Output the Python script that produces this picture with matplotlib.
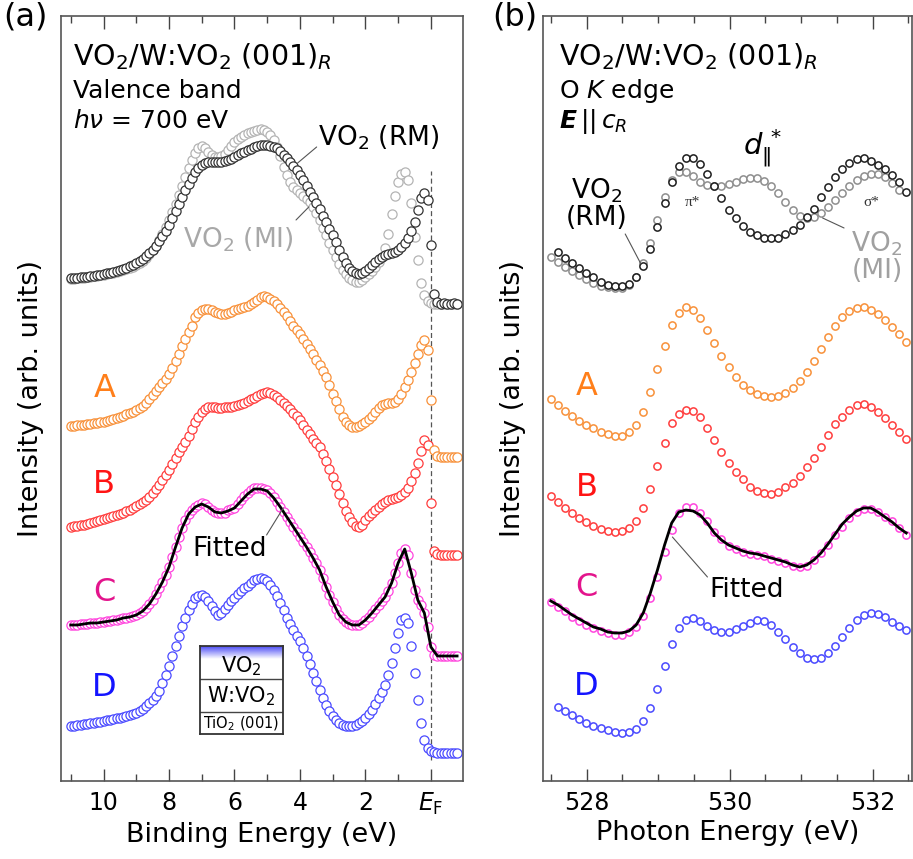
import numpy as np
import matplotlib.pyplot as plt
import matplotlib as mpl
from matplotlib.colors import LinearSegmentedColormap

# Configurations
mpl.rcParams['font.family'] = 'DejaVu Sans'
mpl.rcParams['mathtext.fontset'] = 'custom'
mpl.rcParams['mathtext.rm'] = 'DejaVu Sans'
mpl.rcParams['mathtext.it'] = 'DejaVu Sans:italic'
mpl.rcParams['mathtext.bf'] = 'DejaVu Sans:bold:italic'
mpl.rcParams['axes.edgecolor'] = '#555555'
mpl.rcParams['axes.linewidth'] = 1.2
mpl.rcParams['xtick.color'] = '#444444'
mpl.rcParams['xtick.labelcolor'] = 'black'

###################### valence band (binding energy, eV) ######################
be = np.arange(110, -9, -1) / 10.0      # 11.0 ... -0.8
be_fit = np.arange(110, -9, -2) / 10.0  # 11.0 ... -0.8

vb_rm = [0.26, 0.26, 0.26, 0.27, 0.27, 0.27, 0.28, 0.28, 0.29, 0.29,
         0.30, 0.31, 0.31, 0.32, 0.33, 0.34, 0.35, 0.36, 0.38, 0.39,
         0.41, 0.43, 0.45, 0.48, 0.51, 0.54, 0.58, 0.63, 0.68, 0.73,
         0.79, 0.86, 0.93, 1.00, 1.07, 1.14, 1.20, 1.26, 1.32, 1.36,
         1.39, 1.41, 1.42, 1.42, 1.42, 1.42, 1.42, 1.43, 1.44, 1.45,
         1.47, 1.49, 1.51, 1.52, 1.54, 1.55, 1.57, 1.58, 1.59, 1.59,
         1.59, 1.58, 1.57, 1.56, 1.53, 1.49, 1.46, 1.42, 1.38, 1.34,
         1.29, 1.24, 1.18, 1.12, 1.07, 1.01, 0.95, 0.88, 0.82, 0.75,
         0.69, 0.62, 0.54, 0.47, 0.41, 0.36, 0.33, 0.31, 0.30, 0.31,
         0.33, 0.36, 0.39, 0.42, 0.45, 0.47, 0.49, 0.50, 0.51, 0.52,
         0.54, 0.57, 0.61, 0.66, 0.73, 0.82, 0.94, 1.06, 1.11, 1.04,
         0.59, 0.10, 0.02, 0.00, 0.01, 0.00, 0.00, 0.01, 0.00]
vb_mi = [0.25, 0.25, 0.26, 0.26, 0.26, 0.27, 0.27, 0.28, 0.28, 0.29,
         0.29, 0.30, 0.31, 0.31, 0.32, 0.33, 0.34, 0.35, 0.36, 0.37,
         0.39, 0.41, 0.43, 0.46, 0.50, 0.54, 0.58, 0.64, 0.70, 0.77,
         0.84, 0.92, 1.00, 1.09, 1.18, 1.27, 1.36, 1.44, 1.51, 1.56,
         1.58, 1.56, 1.52, 1.49, 1.47, 1.47, 1.48, 1.50, 1.54, 1.58,
         1.62, 1.65, 1.67, 1.69, 1.71, 1.72, 1.73, 1.74, 1.75, 1.74,
         1.72, 1.69, 1.64, 1.57, 1.48, 1.37, 1.29, 1.22, 1.17, 1.14,
         1.11, 1.08, 1.05, 1.02, 0.97, 0.91, 0.84, 0.76, 0.69, 0.61,
         0.54, 0.47, 0.40, 0.34, 0.30, 0.26, 0.24, 0.22, 0.22, 0.24,
         0.27, 0.30, 0.33, 0.37, 0.42, 0.47, 0.56, 0.70, 0.90, 1.08,
         1.22, 1.30, 1.32, 1.24, 1.01, 0.67, 0.44, 0.21, 0.09, 0.03,
         0.01, 0.00, 0.00, 0.00, 0.00, 0.00, 0.00, 0.00, 0.00]
vb_a = [0.31, 0.31, 0.32, 0.32, 0.32, 0.33, 0.33, 0.34, 0.34, 0.35,
        0.35, 0.36, 0.37, 0.38, 0.39, 0.40, 0.41, 0.43, 0.44, 0.45,
        0.47, 0.49, 0.51, 0.54, 0.58, 0.62, 0.66, 0.70, 0.74, 0.78,
        0.83, 0.89, 0.96, 1.03, 1.11, 1.18, 1.25, 1.31, 1.40, 1.44,
        1.47, 1.48, 1.48, 1.47, 1.45, 1.44, 1.43, 1.43, 1.44, 1.45,
        1.47, 1.48, 1.49, 1.50, 1.51, 1.53, 1.55, 1.57, 1.60, 1.61,
        1.60, 1.58, 1.56, 1.53, 1.49, 1.45, 1.41, 1.36, 1.31, 1.27,
        1.23, 1.18, 1.13, 1.08, 1.03, 0.97, 0.92, 0.86, 0.80, 0.72,
        0.63, 0.56, 0.48, 0.40, 0.35, 0.32, 0.30, 0.30, 0.31, 0.33,
        0.35, 0.38, 0.41, 0.45, 0.49, 0.52, 0.53, 0.54, 0.54, 0.55,
        0.58, 0.63, 0.70, 0.77, 0.85, 0.94, 1.03, 1.12, 1.17, 1.07,
        0.57, 0.07, 0.01, 0.00, 0.00, 0.00, 0.00, 0.00, 0.00]
vb_b = [0.28, 0.29, 0.29, 0.30, 0.30, 0.31, 0.32, 0.33, 0.34, 0.35,
        0.36, 0.37, 0.38, 0.39, 0.40, 0.41, 0.42, 0.44, 0.45, 0.47,
        0.49, 0.51, 0.53, 0.55, 0.58, 0.62, 0.66, 0.70, 0.75, 0.80,
        0.85, 0.91, 0.97, 1.03, 1.08, 1.13, 1.19, 1.26, 1.33, 1.38,
        1.43, 1.46, 1.48, 1.48, 1.48, 1.47, 1.47, 1.48, 1.48, 1.48,
        1.49, 1.50, 1.51, 1.52, 1.54, 1.56, 1.57, 1.59, 1.61, 1.62,
        1.63, 1.62, 1.60, 1.58, 1.55, 1.52, 1.49, 1.46, 1.42, 1.39,
        1.35, 1.30, 1.25, 1.21, 1.16, 1.12, 1.08, 1.01, 0.94, 0.86,
        0.78, 0.70, 0.61, 0.52, 0.44, 0.38, 0.33, 0.29, 0.28, 0.30,
        0.35, 0.39, 0.42, 0.45, 0.48, 0.51, 0.53, 0.55, 0.56, 0.57,
        0.58, 0.60, 0.63, 0.67, 0.74, 0.82, 0.92, 1.04, 1.15, 1.10,
        0.52, 0.04, 0.01, 0.00, 0.00, 0.00, 0.00, 0.00, 0.00]
vb_c = [0.31, 0.31, 0.31, 0.32, 0.32, 0.32, 0.33, 0.33, 0.33, 0.34,
        0.34, 0.35, 0.35, 0.36, 0.36, 0.37, 0.38, 0.38, 0.39, 0.40,
        0.41, 0.43, 0.45, 0.48, 0.52, 0.56, 0.62, 0.68, 0.74, 0.81,
        0.89, 0.99, 1.09, 1.19, 1.28, 1.36, 1.42, 1.46, 1.49, 1.51,
        1.53, 1.52, 1.49, 1.46, 1.44, 1.43, 1.43, 1.43, 1.46, 1.47,
        1.48, 1.52, 1.56, 1.60, 1.63, 1.66, 1.68, 1.68, 1.68, 1.67,
        1.66, 1.63, 1.59, 1.54, 1.49, 1.44, 1.39, 1.34, 1.29, 1.24,
        1.19, 1.14, 1.09, 1.04, 0.98, 0.93, 0.86, 0.78, 0.69, 0.61,
        0.54, 0.47, 0.41, 0.37, 0.34, 0.32, 0.31, 0.31, 0.31, 0.33,
        0.36, 0.39, 0.43, 0.47, 0.51, 0.55, 0.59, 0.65, 0.73, 0.83,
        0.93, 1.03, 1.07, 1.01, 0.83, 0.66, 0.56, 0.51, 0.43, 0.29,
        0.09, 0.01, 0.00, 0.00, 0.00, 0.00, 0.00, 0.00, 0.00]
vb_c_fit = [0.31, 0.31, 0.32, 0.33, 0.33, 0.34, 0.35, 0.36, 0.38, 0.39,
            0.41, 0.45, 0.52, 0.62, 0.74, 0.89, 1.09, 1.28, 1.42, 1.49,
            1.52, 1.49, 1.44, 1.43, 1.45, 1.48, 1.55, 1.62, 1.67, 1.67,
            1.65, 1.58, 1.49, 1.39, 1.29, 1.19, 1.09, 0.98, 0.86, 0.69,
            0.54, 0.41, 0.34, 0.31, 0.31, 0.36, 0.43, 0.51, 0.59, 0.73,
            0.93, 1.07, 0.83, 0.56, 0.43, 0.09, 0.00, 0.00, 0.00, 0.00]
vb_d = [0.27, 0.27, 0.28, 0.28, 0.29, 0.29, 0.30, 0.30, 0.31, 0.31,
        0.32, 0.33, 0.33, 0.34, 0.35, 0.35, 0.36, 0.37, 0.38, 0.39,
        0.40, 0.42, 0.44, 0.47, 0.50, 0.53, 0.57, 0.62, 0.70, 0.78,
        0.87, 0.97, 1.07, 1.17, 1.27, 1.35, 1.43, 1.49, 1.55, 1.57,
        1.58, 1.56, 1.52, 1.47, 1.42, 1.38, 1.40, 1.44, 1.48, 1.52,
        1.55, 1.59, 1.62, 1.65, 1.67, 1.70, 1.73, 1.74, 1.75, 1.74,
        1.72, 1.68, 1.63, 1.57, 1.50, 1.43, 1.35, 1.29, 1.23, 1.17,
        1.12, 1.05, 0.97, 0.89, 0.80, 0.72, 0.63, 0.55, 0.48, 0.42,
        0.37, 0.33, 0.30, 0.28, 0.27, 0.27, 0.27, 0.28, 0.30, 0.32,
        0.35, 0.39, 0.43, 0.49, 0.55, 0.61, 0.68, 0.78, 0.90, 1.05,
        1.20, 1.33, 1.35, 1.30, 1.07, 0.80, 0.53, 0.30, 0.13, 0.05,
        0.02, 0.01, 0.00, 0.00, 0.00, 0.00, 0.00, 0.00, 0.00]
vb_shift = {'mi': 4.77, 'rm': 4.77, 'a': 3.24, 'b': 2.26, 'c': 1.25, 'd': 0.28}

###################### O K edge (photon energy, eV) ###########################
hv = np.linspace(527.5, 532.47, 51)

xas_rm = [0.79, 0.73, 0.68, 0.63, 0.58, 0.54, 0.49, 0.46, 0.45, 0.45,
          0.47, 0.54, 0.65, 0.82, 1.04, 1.28, 1.49, 1.65, 1.73, 1.73,
          1.67, 1.57, 1.45, 1.33, 1.21, 1.13, 1.05, 0.99, 0.96, 0.93,
          0.93, 0.93, 0.97, 1.01, 1.06, 1.14, 1.22, 1.34, 1.44, 1.54,
          1.62, 1.68, 1.72, 1.73, 1.70, 1.66, 1.62, 1.56, 1.49, 1.39]
xas_mi = [0.74, 0.69, 0.64, 0.60, 0.56, 0.52, 0.48, 0.45, 0.44, 0.43,
          0.43, 0.46, 0.54, 0.68, 0.88, 1.11, 1.34, 1.51, 1.59, 1.59,
          1.55, 1.49, 1.46, 1.45, 1.45, 1.47, 1.49, 1.52, 1.53, 1.53,
          1.50, 1.45, 1.38, 1.29, 1.21, 1.15, 1.13, 1.14, 1.18, 1.24,
          1.31, 1.38, 1.45, 1.51, 1.55, 1.57, 1.57, 1.54, 1.48, 1.41]
xas_a = [0.82, 0.76, 0.70, 0.65, 0.60, 0.56, 0.53, 0.49, 0.47, 0.45,
         0.45, 0.49, 0.56, 0.69, 0.89, 1.12, 1.35, 1.56, 1.68, 1.74,
         1.71, 1.63, 1.51, 1.38, 1.25, 1.14, 1.04, 0.96, 0.91, 0.87,
         0.85, 0.84, 0.85, 0.88, 0.93, 1.00, 1.09, 1.20, 1.32, 1.44,
         1.55, 1.64, 1.70, 1.73, 1.74, 1.71, 1.67, 1.61, 1.54, 1.47, 1.39]
xas_b = [0.85, 0.79, 0.73, 0.68, 0.63, 0.59, 0.55, 0.52, 0.50, 0.49,
         0.50, 0.53, 0.60, 0.73, 0.92, 1.15, 1.38, 1.58, 1.67, 1.71,
         1.70, 1.64, 1.53, 1.41, 1.29, 1.18, 1.09, 1.02, 0.94, 0.90,
         0.88, 0.87, 0.89, 0.94, 0.98, 1.05, 1.14, 1.23, 1.34, 1.46,
         1.57, 1.64, 1.71, 1.76, 1.77, 1.74, 1.69, 1.63, 1.56, 1.49, 1.42]
xas_c = [0.79, 0.74, 0.70, 0.64, 0.60, 0.56, 0.53, 0.50, 0.48, 0.46,
         0.46, 0.49, 0.54, 0.65, 0.83, 1.04, 1.29, 1.51, 1.68, 1.74,
         1.74, 1.68, 1.60, 1.49, 1.42, 1.35, 1.32, 1.29, 1.27, 1.26,
         1.25, 1.22, 1.20, 1.18, 1.15, 1.14, 1.15, 1.21, 1.28, 1.36,
         1.46, 1.54, 1.63, 1.69, 1.72, 1.72, 1.69, 1.64, 1.60, 1.53, 1.46]
xas_c_fit = [0.80, 0.76, 0.71, 0.66, 0.62, 0.58, 0.54, 0.52, 0.49, 0.48,
             0.48, 0.50, 0.56, 0.68, 0.88, 1.11, 1.36, 1.58, 1.69, 1.71,
             1.70, 1.66, 1.58, 1.48, 1.41, 1.36, 1.33, 1.30, 1.28, 1.27,
             1.25, 1.23, 1.21, 1.19, 1.16, 1.14, 1.16, 1.21, 1.28, 1.37,
             1.47, 1.57, 1.64, 1.70, 1.73, 1.73, 1.69, 1.64, 1.59, 1.53, 1.48]
xas_d = [0.74, 0.70, 0.66, 0.62, 0.58, 0.55, 0.53, 0.51, 0.49, 0.48,
         0.49, 0.52, 0.60, 0.73, 0.92, 1.15, 1.37, 1.53, 1.61, 1.63,
         1.60, 1.55, 1.51, 1.49, 1.49, 1.52, 1.55, 1.58, 1.61, 1.60,
         1.56, 1.49, 1.42, 1.34, 1.28, 1.23, 1.22, 1.23, 1.28, 1.35,
         1.44, 1.53, 1.61, 1.66, 1.68, 1.67, 1.64, 1.59, 1.55, 1.51]
xas_shift = {'mi': 4.5, 'rm': 4.5, 'a': 3.0, 'b': 2.0, 'c': 1.0, 'd': 0.0}

c_mi_l, c_rm_l = '#b4b4b4', '#333333'
c_mi_r, c_rm_r = '#8e8e8e', '#1e1e1e'
c_a, c_b, c_c, c_d = '#f8913a', '#ff3d3d', '#ff45de', '#4a4aff'
t_a, t_b, t_c, t_d = '#ff7f1a', '#ff1414', '#e3148c', '#1414ff'


def circles(ax, x, y, col, ms=6.6, mew=0.9):
    ax.plot(x, y, 'o', ls='none', ms=ms, mfc='white', mec=col, mew=mew)


def leader(ax, p0, p1):
    ax.annotate('', xy=p1, xytext=p0,
                arrowprops=dict(arrowstyle='-', color='#555555', lw=0.8,
                                shrinkA=0, shrinkB=0))


fig = plt.figure(figsize=(9.13, 8.59), dpi=100)
ax1 = fig.add_axes([0.0668, 0.0908, 0.4403, 0.8906])
ax2 = fig.add_axes([0.5947, 0.0908, 0.4042, 0.8906])

######################## (a) valence band #####################################
ax = ax1
ax.plot([0, 0], [0.21, 6.1], ls='--', dashes=(4, 2.5), color='#555555', lw=0.9)
circles(ax, be, np.array(vb_d) + vb_shift['d'], c_d)
circles(ax, be, np.array(vb_c) + vb_shift['c'], c_c)
ax.plot(be_fit, np.array(vb_c_fit) + vb_shift['c'], color='black', lw=2.0)
circles(ax, be, np.array(vb_b) + vb_shift['b'], c_b)
circles(ax, be, np.array(vb_a) + vb_shift['a'], c_a)
circles(ax, be, np.array(vb_mi) + vb_shift['mi'], c_mi_l)
circles(ax, be, np.array(vb_rm) + vb_shift['rm'], c_rm_l)

ax.set_xlim(11.3, -0.98)
ax.set_ylim(0, 7.65)
ax.set_xticks([10, 8, 6, 4, 2, 0])
ax.set_xticklabels(['10', '8', '6', '4', '2', r'$E_{\rm F}$'])
ax.set_xticks([11, 9, 7, 5, 3, 1], minor=True)

ax.text(0.03, 0.936, r'VO$_2$/W:VO$_2$ (001)$_R$', transform=ax.transAxes,
        fontsize=20.5, va='baseline')
ax.text(0.03, 0.893, 'Valence band', transform=ax.transAxes, fontsize=18,
        va='baseline')
ax.text(0.03, 0.853, r'$h\nu$ = 700 eV', transform=ax.transAxes, fontsize=18,
        va='baseline')

ax.text(3.45, 6.43, r'VO$_2$ (RM)', fontsize=19, ha='left', va='center')
leader(ax, (4.07, 6.18), (3.49, 6.34))
ax.text(7.57, 5.41, r'VO$_2$ (MI)', fontsize=19, ha='left', va='center',
        color='#a8a8a8')
leader(ax, (4.12, 5.61), (3.73, 5.74))
ax.text(7.30, 2.32, 'Fitted', fontsize=19, ha='left', va='center')
leader(ax, (5.02, 2.46), (4.51, 2.73))

for lab, yy, col in [('A', 3.92, t_a), ('B', 2.96, t_b), ('C', 1.88, t_c),
                     ('D', 0.93, t_d)]:
    ax.text(9.98, yy, lab, fontsize=23, ha='center', va='center', color=col)

ax.set_xlabel('Binding Energy (eV)', fontsize=19.5, labelpad=4)

######################## (b) O K edge ##########################################
ax = ax2
circles(ax, hv[1:], np.array(xas_d) + xas_shift['d'], c_d, ms=5.2, mew=1.1)
circles(ax, hv, np.array(xas_c) + xas_shift['c'], c_c, ms=5.2, mew=1.1)
ax.plot(hv, np.array(xas_c_fit) + xas_shift['c'], color='black', lw=2.0)
circles(ax, hv, np.array(xas_b) + xas_shift['b'], c_b, ms=5.2, mew=1.1)
circles(ax, hv, np.array(xas_a) + xas_shift['a'], c_a, ms=5.2, mew=1.1)
circles(ax, hv[:50], np.array(xas_mi) + xas_shift['mi'], c_mi_r, ms=5.2, mew=1.1)
circles(ax, hv[1:], np.array(xas_rm) + xas_shift['rm'], c_rm_r, ms=5.2, mew=1.1)

ax.set_xlim(527.39, 532.55)
ax.set_ylim(0, 7.65)
ax.set_xticks([528, 530, 532])
ax.set_xticks(np.arange(527.5, 532.6, 0.5), minor=True)

ax.text(0.043, 0.936, r'VO$_2$/W:VO$_2$ (001)$_R$', transform=ax.transAxes,
        fontsize=20.5, va='baseline')
ax.text(0.043, 0.893, r'O $K$ edge', transform=ax.transAxes, fontsize=18,
        va='baseline')
ax.text(0.043, 0.853, r'$\mathbf{E}\,||\,c_R$', transform=ax.transAxes,
        fontsize=18, va='baseline')

ax.text(530.46, 6.33, r'$d_{\|}^{\,*}$', fontsize=21, ha='center', va='center')
ax.text(529.48, 5.78, 'π*', fontsize=11, family='Liberation Serif',
        ha='center', va='center', color='#333333')
ax.text(531.98, 5.78, 'σ*', fontsize=11, family='Liberation Serif',
        ha='center', va='center', color='#333333')

ax.text(528.14, 5.77, 'VO$_2$\n(RM)', fontsize=19, ha='center', va='center',
        multialignment='center', linespacing=1.0)
leader(ax, (528.54, 5.47), (528.76, 5.17))
ax.text(532.06, 5.24, 'VO$_2$\n(MI)', fontsize=19, ha='center', va='center',
        multialignment='center', linespacing=1.0, color='#a0a0a0')
leader(ax, (531.30, 5.63), (531.60, 5.53))
ax.text(529.72, 1.91, 'Fitted', fontsize=19, ha='left', va='center')
leader(ax, (529.20, 2.44), (529.69, 2.04))

for lab, yy, col in [('A', 3.94, t_a), ('B', 2.93, t_b), ('C', 1.93, t_c),
                     ('D', 0.94, t_d)]:
    ax.text(528.0, yy, lab, fontsize=23, ha='center', va='center', color=col)

ax.set_xlabel('Photon Energy (eV)', fontsize=19.5, labelpad=4)

for ax in (ax1, ax2):
    ax.set_yticks([])
    ax.set_ylabel('Intensity (arb. units)', fontsize=19.5, labelpad=12)
    ax.tick_params(axis='x', which='both', direction='in', top=True,
                   bottom=True, labelsize=17, pad=7, width=1.0)
    ax.tick_params(axis='x', which='major', length=9)
    ax.tick_params(axis='x', which='minor', length=5)

fig.text(3 / 913, 1 - 17.5 / 859, '(a)', fontsize=23, va='center', ha='left')
fig.text(492 / 913, 1 - 17.5 / 859, '(b)', fontsize=23, va='center', ha='left')

######################## sample stack sketch ###################################
axi = fig.add_axes([200 / 913, 1 - 734 / 859, 83 / 913, 88 / 859])
grad = np.linspace(0, 1, 64).reshape(-1, 1)
cmap = LinearSegmentedColormap.from_list('vo2top', ['white', '#3f3ff5'])
axi.imshow(grad, cmap=cmap, extent=[0, 1, 0.85, 1.0], aspect='auto',
           origin='lower')
axi.set_xlim(0, 1)
axi.set_ylim(0, 1)
axi.set_xticks([])
axi.set_yticks([])
axi.axhline(0.625, color='#444444', lw=1.0)
axi.axhline(0.25, color='#444444', lw=1.0)
for s in axi.spines.values():
    s.set_edgecolor('#333333')
    s.set_linewidth(1.3)
axi.text(0.5, 0.77, 'VO$_2$', fontsize=15, ha='center', va='center')
axi.text(0.5, 0.43, 'W:VO$_2$', fontsize=15, ha='center', va='center')
axi.text(0.5, 0.12, 'TiO$_2$ (001)', fontsize=10.5, ha='center', va='center')

fig.savefig('out.png', dpi=100)
